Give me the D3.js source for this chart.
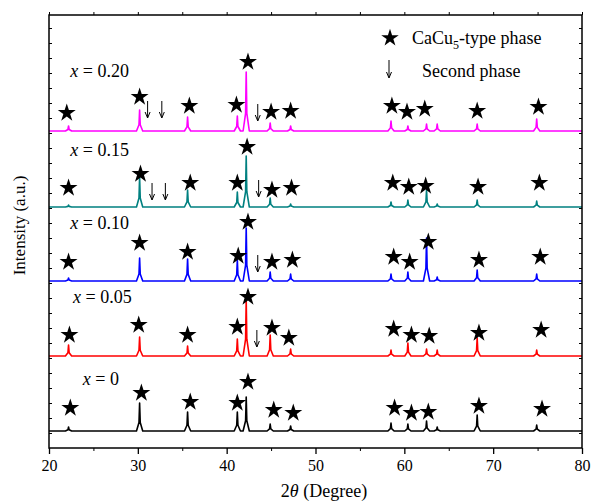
<!DOCTYPE html>
<html>
<head>
<meta charset="utf-8">
<script src="https://cdn.jsdelivr.net/npm/d3@7"></script>
<style>
  html, body { margin: 0; padding: 0; background: #fff; }
</style>
</head>
<body>
<script>
// Data
const sampleLabels = ["0", "0.05", "0.10", "0.15", "0.20"];
const sampleColors = ["#000000", "#ff0000", "#0000ff", "#008080", "#ff00ff"];
// vertical offset of each pattern (a.u.)
const baselineOffsets = [17, 92, 167, 241, 317];

// 2theta of the reflections
const peakPositions = [22.2, 30.2, 35.6, 41.2, 42.2, 44.9, 47.2, 58.5, 60.4, 62.5, 63.7, 68.2, 74.9];
// intensity of each reflection, one row per sample
const peakHeights = [
    [4, 28, 19, 19, 34, 7, 5, 8, 7, 10, 4, 16, 6],
    [11, 19, 10, 17, 56, 21, 7, 6, 13, 7, 6, 18, 6],
    [3, 23, 22, 21, 53, 9, 7, 7, 9, 43, 4, 11, 7],
    [2, 30, 17, 15, 51, 9, 3, 5, 7, 17, 3, 7, 6],
    [5, 21, 14, 15, 59, 8, 5, 10, 5, 7, 7, 7, 12]
];

// CaCu5-type phase markers: [2theta, height above pattern]
const starMarks = [
    [[22.4, 23], [30.4, 38], [35.9, 29], [41.2, 28], [42.4, 49], [45.3, 21], [47.5, 18], [58.9, 23], [60.8, 18], [62.7, 19], [68.4, 25], [75.5, 22]],
    [[22.3, 21], [30.1, 31], [35.6, 21], [41.2, 29], [42.4, 59], [45.1, 28], [47.0, 18], [58.8, 27], [60.8, 21], [62.8, 20], [68.4, 23], [75.4, 26]],
    [[22.2, 19], [30.2, 38], [35.6, 29], [41.3, 25], [42.4, 59], [45.1, 19], [47.4, 21], [58.8, 24], [60.6, 19], [62.7, 39], [68.4, 21], [75.3, 24]],
    [[22.2, 19], [30.3, 33], [35.9, 24], [41.2, 24], [42.3, 60], [45.1, 17], [47.3, 19], [58.7, 24], [60.5, 20], [62.4, 21], [68.3, 20], [75.2, 24]],
    [[22.0, 18], [30.2, 34], [35.8, 25], [41.1, 26], [42.4, 69], [45.0, 19], [47.2, 20], [58.6, 25], [60.3, 19], [62.3, 22], [68.2, 20], [75.1, 24]]
];

// Second phase markers: [2theta, arrow tip height above pattern]
const arrowMarks = [
    [],
    [[43.4, 9]],
    [[43.5, 9]],
    [[31.6, 7], [33.1, 7], [43.6, 10]],
    [[31.1, 13], [32.7, 13], [43.5, 10]]
];

const xTicks = [20, 30, 40, 50, 60, 70, 80];

// Layout
const width = 593, height = 502;
const margin = {left: 49, right: 11, top: 15, bottom: 54};
const labelPos = [[23.8, 46], [22.7, 53], [22.4, 52], [22.4, 51], [22.4, 54]];
const serif = "'Liberation Serif', 'Times New Roman', Times, 'DejaVu Serif', serif";

const svg = d3.select("body").append("svg")
    .attr("width", width)
    .attr("height", height);

const x = d3.scaleLinear().domain([20, 80]).range([margin.left, width - margin.right]);
const y = d3.scaleLinear().domain([0, 433]).range([height - margin.bottom, margin.top]);

svg.append("defs").append("clipPath").attr("id", "plot")
    .append("rect")
    .attr("x", x(20)).attr("y", y(433))
    .attr("width", x(80) - x(20)).attr("height", y(0) - y(433));

// Build a pattern from its reflections.
function patternPoints(heights, offset) {
    const pts = [[20, offset]];
    peakPositions.forEach((p, i) => {
        const h = heights[i];
        pts.push([p - 0.35, offset], [p - 0.07, offset + h * 0.3], [p, offset + h],
                 [p + 0.07, offset + h * 0.3], [p + 0.35, offset]);
    });
    pts.push([80, offset]);
    return pts;
}

const line = d3.line().x(d => x(d[0])).y(d => y(d[1]));

const traces = svg.append("g").attr("clip-path", "url(#plot)");
peakHeights.forEach((heights, i) => {
    traces.append("path")
        .attr("d", line(patternPoints(heights, baselineOffsets[i])))
        .attr("fill", "none")
        .attr("stroke", sampleColors[i])
        .attr("stroke-width", 1.6)
        .attr("stroke-linejoin", "round");
});

// Stars
const star = d3.symbol().type(d3.symbolStar).size(100);
starMarks.forEach((marks, i) => {
    svg.append("g").selectAll("path")
        .data(marks)
        .join("path")
        .attr("d", star)
        .attr("transform", d => `translate(${x(d[0])},${y(baselineOffsets[i] + d[1])})`)
        .attr("fill", "#000");
});

// Arrows
function drawArrow(g, px, tipY, len) {
    g.append("line")
        .attr("x1", px).attr("x2", px)
        .attr("y1", tipY - len).attr("y2", tipY - 0.5)
        .attr("stroke", "#000").attr("stroke-width", 1);
    g.append("path")
        .attr("d", `M${px - 2.5},${tipY - 6}L${px},${tipY}L${px + 2.5},${tipY - 6}`)
        .attr("fill", "none").attr("stroke", "#000").attr("stroke-width", 1);
}
const arrowG = svg.append("g");
arrowMarks.forEach((marks, i) => {
    marks.forEach(d => drawArrow(arrowG, x(d[0]), y(baselineOffsets[i] + d[1]), 17));
});

// Sample labels
sampleLabels.forEach((lab, i) => {
    const t = svg.append("text")
        .attr("x", x(labelPos[i][0]))
        .attr("y", y(baselineOffsets[i] + labelPos[i][1]))
        .style("font-family", serif)
        .style("font-size", "18px");
    t.append("tspan").style("font-style", "italic").text("x");
    t.append("tspan").text(" = " + lab);
});

// Legend
svg.append("path")
    .attr("d", d3.symbol().type(d3.symbolStar).size(95))
    .attr("transform", `translate(390,38)`)
    .attr("fill", "#000");
const leg1 = svg.append("text").attr("x", 412).attr("y", 44)
    .style("font-family", serif).style("font-size", "18px");
leg1.append("tspan").text("CaCu");
leg1.append("tspan").style("font-size", "12px").attr("dy", 5).text("5");
leg1.append("tspan").attr("dy", -5).text("-type phase");
drawArrow(svg.append("g"), 389, 78, 18);
svg.append("text").attr("x", 422).attr("y", 77)
    .style("font-family", serif).style("font-size", "18px")
    .text("Second phase");

// Frame and axes
svg.append("rect")
    .attr("x", x(20)).attr("y", y(433))
    .attr("width", x(80) - x(20)).attr("height", y(0) - y(433))
    .attr("fill", "none").attr("stroke", "#000").attr("stroke-width", 1.5);

const xBottom = svg.append("g")
    .attr("transform", `translate(0,${y(0)})`)
    .call(d3.axisBottom(x).tickValues(xTicks).tickSize(6).tickPadding(6).tickFormat(d3.format("d")));
xBottom.select(".domain").remove();
xBottom.selectAll("text")
    .style("font-family", serif).style("font-size", "16px").attr("fill", "#000");
xBottom.selectAll("line").attr("stroke-width", 1.3);

const xMinor = d3.range(25, 80, 10);
svg.append("g").attr("transform", `translate(0,${y(0)})`)
    .call(d3.axisBottom(x).tickValues(xMinor).tickSize(3).tickFormat(""))
    .select(".domain").remove();

const xTop = svg.append("g").attr("transform", `translate(0,${y(433)})`)
    .call(d3.axisTop(x).tickValues(xTicks.concat(xMinor)).tickSize(3).tickFormat(""));
xTop.select(".domain").remove();

const yTicks = d3.range(15, 433, 15);
const yLeft = svg.append("g").attr("transform", `translate(${x(20)},0)`)
    .call(d3.axisLeft(y).tickValues(yTicks).tickSize(-3).tickFormat(""));
yLeft.select(".domain").remove();
const yRight = svg.append("g").attr("transform", `translate(${x(80)},0)`)
    .call(d3.axisRight(y).tickValues(yTicks).tickSize(-3).tickFormat(""));
yRight.select(".domain").remove();

// Axis titles
const xTitle = svg.append("text")
    .attr("x", 324).attr("y", 497)
    .attr("text-anchor", "middle")
    .style("font-family", serif).style("font-size", "18px");
xTitle.append("tspan").text("2");
xTitle.append("tspan").style("font-style", "italic").text("θ");
xTitle.append("tspan").text(" (Degree)");

svg.append("text")
    .attr("transform", `translate(25,${(y(0) + y(433)) / 2 - 6}) rotate(-90)`)
    .attr("text-anchor", "middle")
    .style("font-family", serif).style("font-size", "17px")
    .text("Intensity (a.u.)");
</script>
</body>
</html>
